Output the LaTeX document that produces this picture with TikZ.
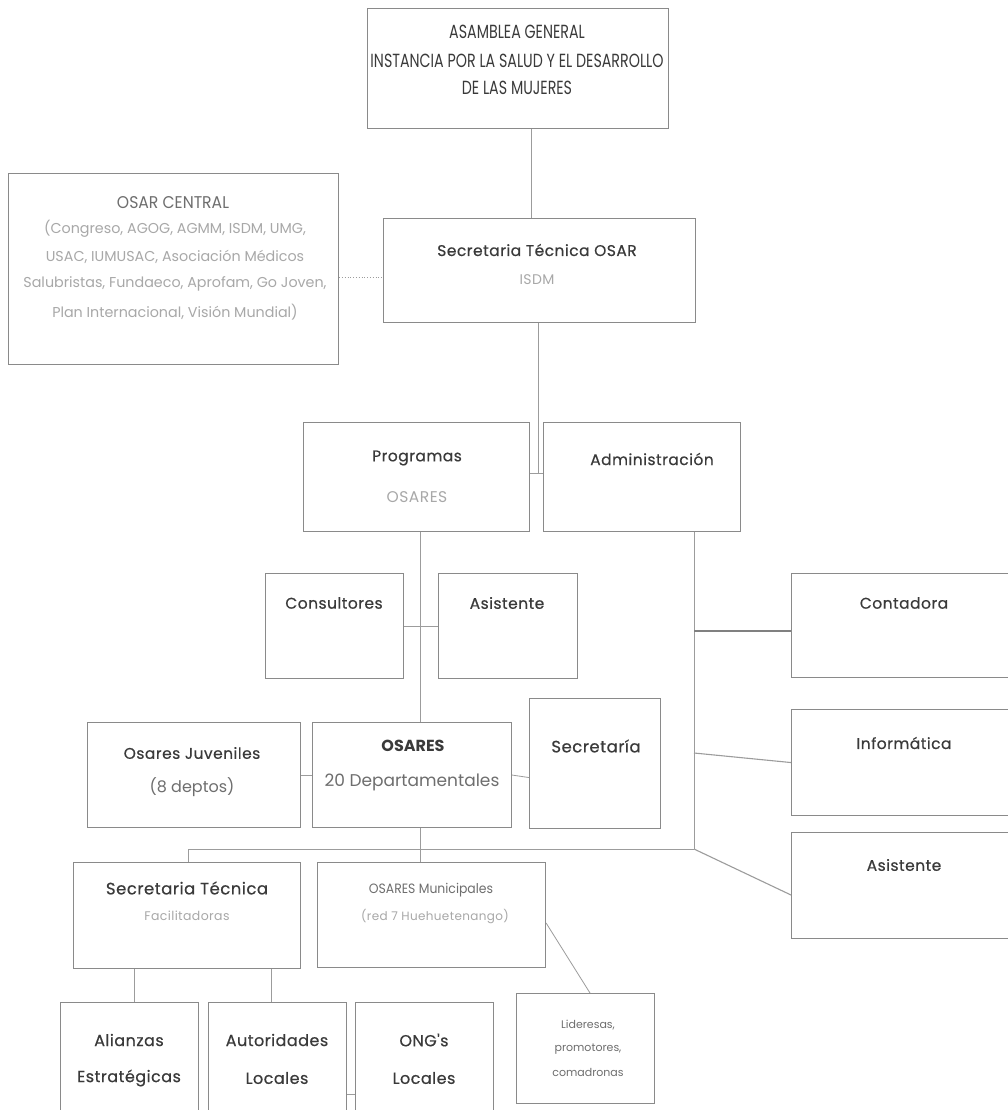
\documentclass[tikz,border=0pt]{standalone}
\usepackage{fontspec}
\setmainfont{Poppins}
\newfontfamily\ttlfont[FakeBold=0.5,LetterSpace=3]{Poppins}
\newfontfamily\subfont[LetterSpace=3]{Poppins}
\usetikzlibrary{calc}
\definecolor{tdark}{HTML}{3A3A3A}
\definecolor{tmid}{HTML}{6E6E6E}
\definecolor{tlight}{HTML}{A8A8A8}
\definecolor{bord}{HTML}{8A8A8A}
\definecolor{conn}{HTML}{9C9C9C}
\tikzset{
  box/.style={draw=bord, line width=1.1pt, inner sep=0pt, anchor=north west},
  ttl/.style={text=tdark, font=\ttlfont\fontsize{15.5}{18}\selectfont, inner sep=0pt},
  big/.style={text=tdark, font=\ttlfont\fontsize{16}{19}\selectfont, inner sep=0pt},
  sub/.style={text=tlight, font=\subfont\fontsize{14}{17}\selectfont, inner sep=0pt},
  midt/.style={text=tmid, font=\subfont\fontsize{14}{17}\selectfont, inner sep=0pt},
  small/.style={text=tlight, font=\subfont\fontsize{12.5}{15}\selectfont, inner sep=0pt},
  caps/.style={text=tdark, font=\fontsize{19}{22}\selectfont, inner sep=0pt},
  link/.style={draw=conn, line width=0.8pt},
}
\newcommand\orgbox[5]{\node[box, minimum width=#4pt, minimum height=#5pt] (#1) at (#2,#3) {};}
\begin{document}
\begin{tikzpicture}[x=1pt,y=-1pt]
\useasboundingbox[fill=white] (0,0) rectangle (1008,1110);
\clip (0,0) rectangle (1008,1110);
% boxes
\orgbox{asam}{367}{8}{301}{120}
\orgbox{central}{8}{173}{330}{191}
\orgbox{stec}{383}{218}{312}{104}
\orgbox{prog}{303}{422}{226}{109}
\orgbox{admin}{543}{422}{197}{109}
\orgbox{cons}{265}{573}{138}{105}
\orgbox{asisA}{438}{573}{139}{105}
\orgbox{juv}{87}{722}{213}{105}
\orgbox{osares}{312}{722}{199}{105}
\orgbox{secr}{529}{698}{131}{130}
\orgbox{conta}{791}{573}{224}{104}
\orgbox{info}{791}{709}{224}{106}
\orgbox{asisB}{791}{832}{224}{106}
\orgbox{fac}{73}{862}{227}{106}
\orgbox{muni}{317}{862}{228}{105}
\orgbox{ali}{60}{1002}{138}{116}
\orgbox{auto}{208}{1002}{138}{116}
\orgbox{ong}{355}{1002}{138}{116}
\orgbox{lid}{516}{993}{138}{110}
% texts
\node[caps] (t1) at (517,32) {\scalebox{0.75}[1]{ASAMBLEA GENERAL}};
\node[caps] (t2) at (517,61) {\scalebox{0.75}[1]{INSTANCIA POR LA SALUD Y EL DESARROLLO}};
\node[caps] (t3) at (517,88) {\scalebox{0.75}[1]{DE LAS MUJERES}};
\node[text=tmid, font=\fontsize{17}{20}\selectfont, inner sep=0pt] (t4) at (173,203) {\scalebox{0.92}[1]{OSAR CENTRAL}};
\node[sub, font=\fontsize{14.3}{17}\selectfont] (t5) at (175,229) {(Congreso, AGOG, AGMM, ISDM, UMG,};
\node[sub, font=\fontsize{14.3}{17}\selectfont] (t6) at (175,257) {USAC, IUMUSAC, Asociación Médicos};
\node[sub, font=\fontsize{14.3}{17}\selectfont] (t7) at (175,284) {Salubristas, Fundaeco, Aprofam, Go Joven,};
\node[sub, font=\fontsize{14.3}{17}\selectfont] (t8) at (175,312) {Plan Internacional, Visión Mundial)};
\node[ttl] (t9) at (537,250) {Secretaria Técnica OSAR};
\node[sub] (t10) at (537,280) {ISDM};
\node[ttl] (t11) at (417,458) {Programas};
\node[sub, font=\subfont\fontsize{15.5}{18}\selectfont] (t12) at (417,497) {OSARES};
\node[ttl] (t13) at (652,459) {Administración};
\node[ttl] (t14) at (334,603) {Consultores};
\node[ttl] (t15) at (507,603) {Asistente};
\node[ttl] (t16) at (192,753) {Osares Juveniles};
\node[midt, font=\fontsize{16}{19}\selectfont] (t17) at (192,787) {(8 deptos)};
\node[text=tdark, font=\bfseries\fontsize{16}{19}\selectfont, inner sep=0pt] (t18) at (413,746) {OSARES};
\node[midt, font=\fontsize{17}{20}\selectfont] (t19) at (412,782) {20 Departamentales};
\node[ttl, font=\ttlfont\fontsize{16.5}{19}\selectfont] (t20) at (596,746) {Secretaría};
\node[ttl] (t21) at (904,603) {Contadora};
\node[ttl] (t22) at (904,743) {Informática};
\node[ttl] (t23) at (904,865) {Asistente};
\node[ttl, font=\ttlfont\fontsize{16.5}{19}\selectfont] (t24) at (187,888) {Secretaria Técnica};
\node[small] (t25) at (187,916) {Facilitadoras};
\node[text=tmid, font=\fontsize{13.5}{16}\selectfont, inner sep=0pt] (t26) at (431,890) {\scalebox{0.92}[1]{OSARES Municipales}};
\node[small, font=\subfont\fontsize{12}{14}\selectfont] (t27) at (435,917) {(red 7 Huehuetenango)};
\node[big] (t28) at (129,1040) {Alianzas};
\node[big] (t29) at (129,1078) {Estratégicas};
\node[big] (t30) at (277,1040) {Autoridades};
\node[big] (t31) at (277,1078) {Locales};
\node[big] (t32) at (424,1040) {ONG's};
\node[big] (t33) at (424,1078) {Locales};
\node[text=tmid, font=\fontsize{11}{13}\selectfont, inner sep=0pt] (t34) at (588,1025) {Lideresas,};
\node[text=tmid, font=\fontsize{11}{13}\selectfont, inner sep=0pt] (t35) at (588,1049) {promotores,};
\node[text=tmid, font=\fontsize{11}{13}\selectfont, inner sep=0pt] (t36) at (588,1072) {comadronas};
% helper coordinates
\coordinate (xa) at (531,0);
\coordinate (xb) at (538,0);
\coordinate (yb) at (0,473);
\coordinate (yc) at (0,277);
\coordinate (xc) at (420,0);
\coordinate (xd) at (694,0);
\coordinate (yh) at (0,849);
\coordinate (xe) at (188,0);
\coordinate (xf) at (134,0);
\coordinate (xg) at (271,0);
\coordinate (yk) at (0,631);
\coordinate (yi) at (0,753);
\coordinate (ya) at (0,895);
\coordinate (yo) at (0,1094);
\coordinate (ym) at (0,923);
\coordinate (xl) at (590,0);
% connectors
\draw[link] (xa |- asam.south) -- (xa |- stec.north);
\draw[link, dotted, line width=1pt] (yc -| central.east) -- (yc -| stec.west);
\draw[link] (xb |- stec.south) -- (xb |- yb);
\draw[link] (prog.east |- yb) -- (admin.west |- yb);
\draw[link] (xc |- prog.south) -- (xc |- osares.north);
\draw[link] (cons.east) -- (asisA.west);
\draw[link] (juv.east) -- (osares.west);
\draw[link] (osares.east) -- ($(secr.west)+(0,14)$);
\draw[link] (xc |- osares.south) -- (xc |- muni.north);
\draw[link] (xe |- yh) -- (xd |- yh);
\draw[link] (xe |- yh) -- (xe |- fac.north);
\draw[link] (xd |- admin.south) -- (xd |- yh);
\draw[link, line width=1.6pt, draw=gray] (xd |- yk) -- (conta.west |- yk);
\draw[link, line width=1.1pt] (xd |- yi) -- (info.west);
\draw[link, line width=1.1pt] (xd |- yh) -- (asisB.west |- ya);
\draw[link] (xf |- fac.south) -- (xf |- ali.north);
\draw[link] (xg |- fac.south) -- (xg |- auto.north);
\draw[link] (auto.east |- yo) -- (ong.west |- yo);
\draw[link] (muni.east |- ym) -- (xl |- lid.north);
\end{tikzpicture}
\end{document}
